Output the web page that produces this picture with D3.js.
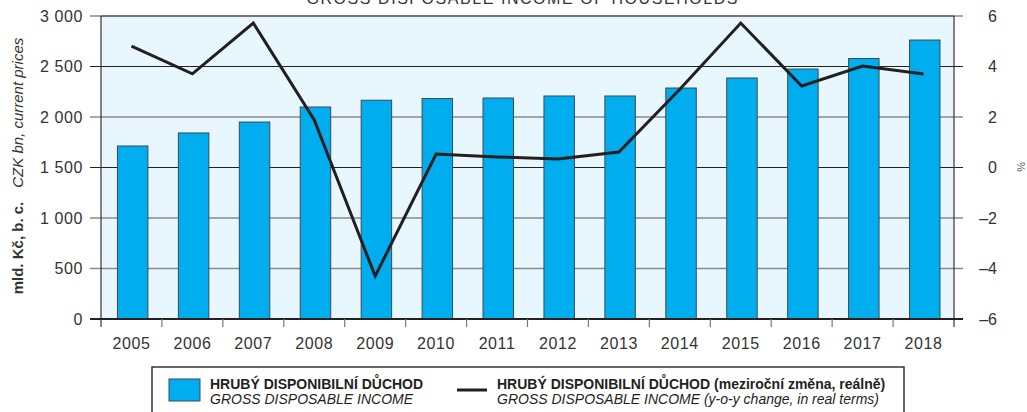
<!DOCTYPE html>
<html>
<head>
<meta charset="utf-8">
<script src="https://cdn.jsdelivr.net/npm/d3@7"></script>
<style>
  body { margin: 0; background: #fff; }
  svg { font-family: "Liberation Sans", Arial, sans-serif; }
</style>
</head>
<body>
<div id="chart"></div>
<script>
const years = ["2005","2006","2007","2008","2009","2010","2011","2012","2013","2014","2015","2016","2017","2018"]
const income = [1713, 1842, 1950, 2099, 2166, 2183, 2188, 2208, 2208, 2287, 2386, 2475, 2579, 2762]
const change = [4.81, 3.71, 5.72, 1.88, -4.30, 0.53, 0.42, 0.34, 0.61, 3.1, 5.72, 3.23, 4.02, 3.70]
const leftTicks = [0, 500, 1000, 1500, 2000, 2500, 3000]
const rightTicks = [-6, -4, -2, 0, 2, 4, 6]

var width = 1027,
    height = 412
var plot = {left: 101, right: 954, top: 16, bottom: 319}

var svg = d3.select("#chart").append("svg")
    .attr("width", width)
    .attr("height", height)

const xb = d3.scaleBand().domain(years).range([plot.left, plot.right])
const y = d3.scaleLinear().domain([0, 3000]).range([plot.bottom, plot.top])
const y2 = d3.scaleLinear().domain([-6, 6]).range([plot.bottom, plot.top])

// title, clipped at the top of the picture like in the source
svg.append("text")
    .attr("x", 522).attr("y", 4)
    .attr("text-anchor", "middle")
    .attr("font-size", 16)
    .attr("fill", "#333")
    .attr("textLength", 431)
    .text("GROSS DISPOSABLE INCOME OF HOUSEHOLDS")

svg.append("rect")
    .attr("x", plot.left).attr("y", plot.top)
    .attr("width", plot.right - plot.left).attr("height", plot.bottom - plot.top)
    .attr("fill", "#e8f6fd")

// gridlines
svg.append("g").selectAll("line")
    .data(leftTicks)
    .enter().append("line")
    .attr("x1", plot.left - 11).attr("x2", plot.right + 9)
    .attr("y1", d => y(d)).attr("y2", d => y(d))
    .attr("stroke", d => (d == 2500 || d == 1500) ? "#222" : "#8a8a8a")
    .attr("stroke-width", d => (d == 2500 || d == 1500) ? 1 : 1.6)

// bars
svg.append("g").selectAll("rect")
    .data(income)
    .enter().append("rect")
    .attr("x", (d, i) => xb(years[i]) + xb.bandwidth() * 0.27)
    .attr("y", d => y(d))
    .attr("width", xb.bandwidth() * 0.5)
    .attr("height", d => y(0) - y(d))
    .attr("fill", "#00aeef")
    .attr("stroke", "#3a4a55")
    .attr("stroke-width", 1)

// plot frame
svg.append("line").attr("x1", plot.left).attr("x2", plot.right).attr("y1", plot.top).attr("y2", plot.top)
    .attr("stroke", "#666").attr("stroke-width", 1.5)
svg.append("line").attr("x1", plot.left).attr("x2", plot.left).attr("y1", plot.top).attr("y2", plot.bottom + 8)
    .attr("stroke", "#333").attr("stroke-width", 1.2)
svg.append("line").attr("x1", plot.right).attr("x2", plot.right).attr("y1", plot.top).attr("y2", plot.bottom + 8)
    .attr("stroke", "#333").attr("stroke-width", 1.2)
svg.append("line").attr("x1", plot.left - 11).attr("x2", plot.right + 9).attr("y1", plot.bottom).attr("y2", plot.bottom)
    .attr("stroke", "#222").attr("stroke-width", 2)

// x ticks at category boundaries
svg.append("g").selectAll("line")
    .data(years.slice(1))
    .enter().append("line")
    .attr("x1", d => xb(d)).attr("x2", d => xb(d))
    .attr("y1", plot.bottom).attr("y2", plot.bottom + 8)
    .attr("stroke", "#777").attr("stroke-width", 1.2)

svg.append("g").selectAll("text")
    .data(years)
    .enter().append("text")
    .attr("x", d => xb(d) + xb.bandwidth() / 2)
    .attr("y", 349)
    .attr("text-anchor", "middle")
    .attr("font-size", 16)
    .attr("letter-spacing", 0.6)
    .attr("fill", "#333")
    .text(d => d)

// left axis labels
svg.append("g").selectAll("text")
    .data(leftTicks)
    .enter().append("text")
    .attr("x", 83)
    .attr("y", d => y(d) + 5.5)
    .attr("text-anchor", "end")
    .attr("font-size", 16)
    .attr("letter-spacing", 0.6)
    .attr("fill", "#333")
    .text(d => d3.format(",")(d).replace(",", " "))

// right axis labels
svg.append("g").selectAll("text")
    .data(rightTicks)
    .enter().append("text")
    .attr("x", 997)
    .attr("y", d => y2(d) + 5.5)
    .attr("text-anchor", "end")
    .attr("font-size", 16)
    .attr("fill", "#333")
    .text(d => d < 0 ? "\u2013" + Math.abs(d) : d)

svg.append("text")
    .attr("transform", "translate(1017,167) rotate(90)")
    .attr("text-anchor", "middle")
    .attr("font-size", 11)
    .attr("fill", "#555")
    .text("%")

const ylab = svg.append("text")
    .attr("transform", "translate(23,166) rotate(-90)")
    .attr("text-anchor", "middle")
    .attr("font-size", 15)
    .attr("fill", "#333")
ylab.append("tspan").attr("font-weight", "bold").text("mld. Kč, b. c.")
ylab.append("tspan").attr("font-style", "italic").attr("dx", 14).text("CZK bn, current prices")

// line
const line = d3.line()
    .x((d, i) => xb(years[i]) + xb.bandwidth() / 2)
    .y(d => y2(d))

svg.append("path")
    .datum(change)
    .attr("d", line)
    .attr("fill", "none")
    .attr("stroke", "#231f20")
    .attr("stroke-width", 3)

// legend
svg.append("rect")
    .attr("x", 152).attr("y", 367)
    .attr("width", 752).attr("height", 60)
    .attr("fill", "#fff")
    .attr("stroke", "#333").attr("stroke-width", 1.5)

svg.append("rect")
    .attr("x", 169).attr("y", 379)
    .attr("width", 31).attr("height", 22)
    .attr("fill", "#00aeef").attr("stroke", "#3a4a55")

svg.append("line")
    .attr("x1", 457).attr("x2", 487).attr("y1", 390).attr("y2", 390)
    .attr("stroke", "#231f20").attr("stroke-width", 3)

const legItems = [
    {x: 210, bold: "HRUBÝ DISPONIBILNÍ DŮCHOD", extra: "", it: "GROSS DISPOSABLE INCOME"},
    {x: 497, bold: "HRUBÝ DISPONIBILNÍ DŮCHOD", extra: " (meziroční změna, reálně)", it: "GROSS DISPOSABLE INCOME (y-o-y change, in real terms)"}
]
legItems.forEach(function(d){
    var t = svg.append("text").attr("x", d.x).attr("y", 389).attr("font-size", 14).attr("fill", "#231f20")
    t.append("tspan").attr("font-weight", "bold").text(d.bold)
    if (d.extra) t.append("tspan").attr("font-weight", "bold").text(d.extra)
    svg.append("text").attr("x", d.x).attr("y", 404).attr("font-size", 14)
        .attr("font-style", "italic").attr("fill", "#231f20").text(d.it)
})
</script>
</body>
</html>
